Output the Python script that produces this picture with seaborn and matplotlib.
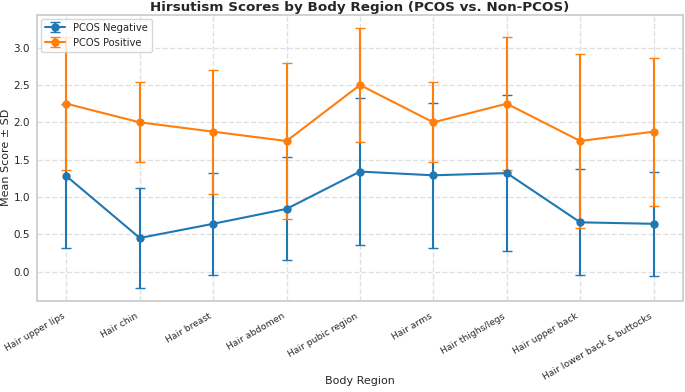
import numpy as np
import matplotlib
matplotlib.use("Agg")
import matplotlib.pyplot as plt
import seaborn as sns

# Body regions on the x axis
regions = ["Hair upper lips", "Hair chin", "Hair breast", "Hair abdomen",
           "Hair pubic region", "Hair arms", "Hair thighs/legs",
           "Hair upper back", "Hair lower back & buttocks"]

# Mean and SD per group
neg_mean = [1.28, 0.45, 0.64, 0.84, 1.34, 1.29, 1.32, 0.66, 0.64]
neg_sd = [0.96, 0.67, 0.68, 0.69, 0.99, 0.97, 1.04, 0.71, 0.70]
pos_mean = [2.25, 2.00, 1.875, 1.75, 2.50, 2.00, 2.25, 1.75, 1.875]
pos_sd = [0.89, 0.535, 0.83, 1.04, 0.77, 0.535, 0.89, 1.16, 0.99]

sns.set_theme(style="whitegrid")
plt.rcParams["font.family"] = ["DejaVu Sans"]
colors = sns.color_palette("tab10")

fig, ax = plt.subplots(figsize=(6.85, 3.92), dpi=100)
x = np.arange(len(regions))

ax.errorbar(x, neg_mean, yerr=neg_sd, fmt="-o", color=colors[0], ecolor=colors[0],
            capsize=3.5, linewidth=1.5, elinewidth=1.5, markersize=5, label="PCOS Negative")
ax.errorbar(x, pos_mean, yerr=pos_sd, fmt="-o", color=colors[1], ecolor=colors[1],
            capsize=3.5, linewidth=1.5, elinewidth=1.5, markersize=5, label="PCOS Positive")

ax.set_xticks(x)
ax.set_xticklabels(regions, rotation=30, ha="right", fontsize=6.6)
ax.tick_params(axis="y", labelsize=7.5, length=0, pad=5)
ax.tick_params(axis="x", pad=2)
ax.set_ylim(-0.39, 3.44)
ax.set_title("Hirsutism Scores by Body Region (PCOS vs. Non-PCOS)", fontsize=9.7, fontweight="bold", pad=3)
ax.set_xlabel("Body Region", fontsize=8)
ax.set_ylabel("Mean Score ± SD", fontsize=8)
ax.xaxis.set_label_coords(0.5, -0.265)
ax.yaxis.set_label_coords(-0.040, 0.5)
ax.grid(True, linestyle="--", alpha=0.6)
ax.legend(loc="upper left", fontsize=7.2, frameon=True, borderaxespad=0.4)

fig.subplots_adjust(left=0.054, right=0.997, top=0.962, bottom=0.233)
fig.savefig("out.png", dpi=100)
